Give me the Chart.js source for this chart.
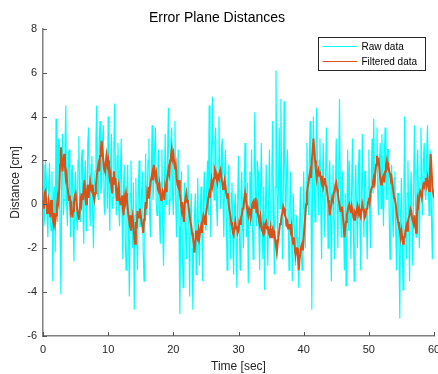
<!DOCTYPE html>
<html>
<head>
<meta charset="utf-8">
<script src="https://cdn.jsdelivr.net/npm/chart.js@4.4.0/dist/chart.umd.min.js"></script>
<style>
  html, body { margin: 0; padding: 0; background: #fff; }
  #wrap { width: 438px; height: 374px; }
</style>
</head>
<body>
<div id="wrap"><canvas id="errorChart" width="438" height="374"></canvas></div>
<script>
// sample spacing, seconds (8 samples per second)
var sampleStep = 0.125;

// raw distances [cm], one row per second
var rawDistance = [
    1.8, -1.0, -0.6, 2.0, 1.2, -0.5, -1.5, 1.0,
    1.9, -0.8, -1.2, 1.5, -3.5, 0.5, 0.8, -2.2,
    3.9, 0.5, -0.8, 3.0, 2.8, -1.5, -4.1, 1.5,
    3.2, -0.5, 0.2, 2.5, 4.5, 0.0, -1.0, 2.2,
    2.5, 0.0, -1.5, 1.5, 1.8, -1.0, -2.6, 0.8,
    1.5, -0.5, -1.2, 2.0, 3.1, 0.2, -0.8, 1.8,
    2.5, -0.2, -1.8, 1.2, 2.0, -1.2, -0.5, 2.8,
    3.5, 0.2, -1.0, 1.8, 2.2, -0.5, -2.0, 1.0,
    1.5, 3.0, 4.5, 0.5, 0.2, 2.8, 3.8, 0.5,
    0.8, 2.8, 3.6, 0.0, -0.5, 2.0, 2.5, -0.2,
    4.0, 0.5, -1.2, 2.0, 3.2, -0.2, 0.3, 2.5,
    4.6, 1.0, -0.5, 2.2, 2.8, -0.2, -1.0, 1.5,
    3.0, -0.5, -2.5, 1.0, 1.8, -1.5, -3.0, 0.5,
    1.8, -1.5, -4.2, 0.5, 2.0, -0.8, -2.0, 1.0,
    -4.8, -0.5, 1.2, -1.5, -3.0, 0.5, 2.0, -1.0,
    -1.0, 0.5, 1.5, -2.0, -3.5, 0.2, 2.3, -0.5,
    0.5, 2.0, 3.0, -0.5, -1.5, 1.5, 3.6, 0.2,
    1.0, 2.5, 3.5, 0.0, -0.5, 1.8, 2.5, -0.8,
    -1.8, 1.0, 2.5, -1.2, -2.8, 0.5, 3.2, 0.0,
    0.8, 2.5, 4.4, -0.5, 0.2, 2.8, 3.5, 0.5,
    -0.5, 2.0, 3.8, 0.0, -1.5, 1.2, 2.5, -1.0,
    -5.0, -0.8, 1.5, -2.0, -3.8, -0.2, 1.0, -1.5,
    -2.5, 0.2, 1.8, -1.0, -4.2, -0.5, 0.5, -2.0,
    -4.8, -1.5, -0.5, 0.5, -3.2, -1.0, 1.2, -1.8,
    -2.8, -0.5, 0.8, -1.2, -3.5, 0.2, 1.5, -0.8,
    -1.2, 0.8, 2.0, -0.5, 4.5, 0.5, -1.5, 2.5,
    4.9, 1.5, 0.2, 2.8, 3.5, 0.0, -1.0, 2.0,
    4.0, 1.0, -0.2, 2.5, 3.0, 0.2, -1.5, 1.5,
    2.5, -0.5, -3.0, 0.8, 1.8, -0.8, -2.5, 0.5,
    1.0, -1.5, -3.2, -0.2, 0.5, -1.8, -3.8, 0.2,
    2.2, -0.8, -3.0, 0.5, 1.5, -1.0, -2.0, 0.8,
    2.8, 0.2, -1.5, 1.0, -3.6, -0.5, 1.5, -1.0,
    2.5, -0.5, -2.5, 1.2, 4.2, 0.5, -1.0, 2.0,
    1.5, -1.2, -3.0, 0.5, 2.8, -0.5, -2.5, 0.8,
    -3.9, -0.5, 1.8, -1.0, -2.8, 0.2, 2.5, -0.8,
    -1.0, 1.5, 3.8, -0.5, -3.2, 0.8, 6.1, 1.0,
    -1.5, 0.8, 3.5, -0.2, 4.8, 1.0, -2.5, 0.5,
    4.7, 1.2, -1.0, 1.5, 2.5, -0.8, -3.0, 0.2,
    1.5, -1.0, -3.5, 0.5, 0.5, -1.5, -2.8, -0.5,
    -1.5, -2.5, -3.8, -1.0, 0.8, -2.0, -3.0, -0.8,
    1.5, -0.5, -2.0, 1.0, 2.8, 0.2, -0.5, 2.0,
    3.8, 0.5, -4.8, 1.5, 4.0, 1.0, -0.8, 2.5,
    4.4, 1.2, -0.5, 2.0, 3.0, 0.0, -2.5, 1.0,
    2.8, 0.2, -1.5, 1.5, 3.5, 0.5, -2.0, 1.2,
    2.0, -0.5, -3.5, 0.5, 1.8, -0.8, -2.5, 0.8,
    3.0, 0.0, -2.0, 1.5, 4.8, 0.5, -1.5, 1.2,
    1.5, -1.0, -3.0, 0.5, -3.7, -0.5, 2.5, -1.2,
    2.0, -0.5, -2.5, 1.0, 3.0, -0.8, -3.5, 0.5,
    1.8, -0.5, -2.0, 1.2, 2.5, -0.8, -3.0, 0.2,
    3.2, 0.2, -1.5, 1.5, 1.5, -0.8, -2.5, 0.8,
    2.5, -0.2, -2.0, 1.0, 3.0, 0.5, 3.9, 0.8,
    1.0, 2.2, 3.5, 0.5, -0.5, 1.8, 2.8, -0.2,
    3.2, 0.8, -1.0, 2.0, 3.5, 1.2, 0.2, 2.5,
    2.5, -0.5, -2.5, 1.0, 1.8, -0.5, -1.5, 1.2,
    1.5, -1.2, -3.0, 0.5, 0.5, -2.0, -5.2, -0.5,
    1.2, -1.5, -3.9, 0.2, 4.0, -0.8, -2.5, 0.5,
    2.0, -0.8, -3.5, 0.5, 1.5, -1.2, -2.8, 0.8,
    3.6, 0.5, -1.5, 1.5, 2.5, 0.0, -2.0, 1.2,
    3.5, 1.0, -0.5, 2.0, 2.8, 0.5, 0.2, 2.2,
    3.6, 0.8, -0.5, 2.5, 1.9, -0.8, -2.5, 0.5,
    0.5
];

// filtered distances [cm], one row per second
var filteredDistance = [
    0.2, -0.2, 0.5, 0.6, 0.1, -0.4, -0.3, 0.1,
    -0.2, -0.6, 0.2, -0.1, -0.7, -0.9, -0.4, -0.8,
    -0.5, -0.1, 0.3, 0.1, 0.8, 1.8, 2.6, 1.9,
    1.5, 2.0, 2.3, 1.7, 1.2, 1.4, 0.8, 0.5,
    0.2, 0.4, -0.3, -0.1, -0.6, -0.3, 0.1, 0.4,
    0.5, 0.1, -0.2, -0.5, -0.7, -0.3, 0.2, 0.0,
    0.5, 0.2, 0.8, 1.1, 0.3, 0.0, 0.6, 0.9,
    0.3, 0.6, 1.0, 0.7, 0.6, 0.9, 0.4, 0.2,
    0.5, 0.9, 1.3, 1.6, 1.8, 1.5, 2.2, 2.5,
    2.9, 2.4, 2.0, 1.6, 1.5, 1.9, 2.2, 1.8,
    2.0, 1.5, 1.2, 1.4, 0.8, 0.5, 1.2, 1.5,
    0.9, 1.2, 0.5, 0.2, 0.7, 0.9, 0.3, 0.0,
    0.0, 0.4, -0.2, -0.5, 0.3, 0.1, 0.5, 0.2,
    -0.2, -0.5, -0.8, -0.5, -1.2, -0.9, -0.6, -1.0,
    -1.5, -1.8, -0.8, -1.1, -0.3, -0.6, -0.6, -0.2,
    -0.5, -0.8, -1.0, -1.3, -0.7, -0.4, 0.1, -0.2,
    0.5, 0.3, 0.8, 0.6, 1.0, 1.2, 1.4, 1.1,
    1.8, 1.5, 1.2, 1.4, 1.0, 0.7, 0.6, 0.9,
    0.5, 0.2, 0.3, 0.6, 0.5, 0.2, 0.8, 0.6,
    1.0, 1.3, 1.6, 1.4, 2.0, 2.2, 2.5, 2.1,
    2.3, 1.9, 1.6, 1.8, 1.2, 0.9, 0.8, 1.1,
    0.5, 0.2, -0.2, 0.1, -0.5, -0.8, 0.0, 0.3,
    0.5, 0.1, 0.2, -0.2, -0.5, -0.8, -1.0, -1.3,
    -1.5, -1.8, -2.2, -1.7, -1.2, -1.5, -1.6, -1.2,
    -1.5, -1.2, -1.0, -1.3, -0.8, -0.5, -0.6, -0.9,
    -0.5, -0.2, 0.0, 0.3, 0.5, 0.3, 0.8, 1.1,
    0.8, 1.0, 1.2, 1.6, 1.5, 1.2, 1.0, 1.3,
    1.2, 1.5, 1.6, 1.2, 1.0, 0.7, 0.9, 1.1,
    0.8, 0.5, 0.3, 0.5, 0.0, -0.3, -0.5, -0.8,
    -1.0, -1.3, -1.4, -1.0, -0.8, -1.1, -1.0, -1.3,
    -1.2, -0.8, -0.9, -0.6, -0.5, -0.2, -0.2, 0.2,
    0.5, 0.2, 0.0, -0.3, -0.5, -0.2, -0.3, -0.6,
    -0.3, 0.0, 0.1, -0.2, 0.0, 0.3, -0.4, -0.1,
    -0.5, -0.7, -0.9, -0.6, -1.0, -1.2, -1.3, -1.0,
    -1.2, -0.9, -0.8, -1.1, -1.0, -1.3, -1.4, -1.1,
    -1.5, -1.2, -1.1, -1.4, -1.3, -1.6, -1.9, -2.2,
    -1.8, -1.5, -1.2, -0.9, -0.8, -0.5, -0.4, -0.1,
    -0.2, -0.5, -0.6, -0.9, -0.8, -1.1, -1.1, -0.9,
    -1.2, -1.0, -1.5, -1.8, -1.5, -2.0, -2.3, -2.0,
    -2.0, -2.4, -3.0, -2.5, -2.2, -1.9, -1.8, -2.1,
    -1.5, -1.0, -0.5, 0.0, 0.5, 0.8, 1.0, 1.3,
    1.5, 1.2, 2.0, 2.4, 3.0, 2.5, 2.0, 1.6,
    1.2, 1.5, 1.6, 1.3, 1.5, 1.2, 1.0, 1.3,
    0.8, 1.0, 1.2, 0.9, 0.8, 0.5, 0.2, 0.0,
    -0.5, -0.2, 0.0, 0.3, 0.2, 0.5, 0.6, 0.9,
    1.0, 0.7, 0.5, 0.2, 0.0, -0.3, -0.3, -0.1,
    -0.5, -0.9, -1.5, -1.1, -0.8, -0.5, -0.3, -0.1,
    0.0, -0.2, -0.4, -0.1, -0.3, -0.6, -0.7, -0.4,
    -0.5, -0.3, -0.1, -0.4, -0.2, -0.5, -0.6, -0.3,
    0.0, -0.2, -0.3, -0.6, -0.5, -0.2, -0.2, 0.1,
    0.3, 0.1, 0.5, 0.7, 0.8, 1.0, 1.2, 1.0,
    1.5, 1.8, 2.2, 1.9, 2.0, 1.6, 1.2, 0.9,
    1.0, 1.2, 1.3, 1.0, 1.5, 1.8, 2.0, 1.7,
    1.8, 1.5, 1.4, 1.1, 1.2, 0.9, 0.6, 0.3,
    0.2, 0.0, -0.3, -0.6, -0.8, -1.0, -1.2, -1.5,
    -1.2, -1.5, -1.8, -1.5, -1.5, -1.2, -1.0, -1.2,
    -0.8, -0.6, -0.5, -0.2, -0.3, -0.6, -0.6, -0.9,
    -0.5, -0.9, -1.3, -0.6, 0.2, 0.0, 0.4, 0.6,
    0.5, 0.3, 0.7, 0.9, 0.8, 1.0, 1.2, 0.9,
    1.2, 0.9, 0.6, 1.5, 2.3, 1.6, 0.8, 0.5,
    0.3
];

var seriesNames = ['Raw data', 'Filtered data'];
var xTicks = [0, 10, 20, 30, 40, 50, 60];
var yTicks = [-6, -4, -2, 0, 2, 4, 6, 8];

function toPoints(values) {
    return values.map(function(v, i) { return { x: i * sampleStep, y: v }; });
}

// MATLAB style: ticks pointing into the plot
var innerTicks = {
    id: 'innerTicks',
    afterDraw: function(chart) {
        var ctx = chart.ctx, a = chart.chartArea;
        var xs = chart.scales.x, ys = chart.scales.y;
        ctx.save();
        ctx.strokeStyle = '#555';
        ctx.lineWidth = 1;
        ctx.beginPath();
        xTicks.forEach(function(t) {
            var px = Math.round(xs.getPixelForValue(t)) + 0.5;
            ctx.moveTo(px, a.bottom);
            ctx.lineTo(px, a.bottom - 4);
        });
        yTicks.forEach(function(t) {
            var py = Math.round(ys.getPixelForValue(t)) + 0.5;
            ctx.moveTo(a.left, py);
            ctx.lineTo(a.left + 4, py);
        });
        ctx.stroke();
        ctx.restore();
    }
};

// legend box inside the axes, top right
var boxLegend = {
    id: 'boxLegend',
    afterDraw: function(chart) {
        var ctx = chart.ctx;
        var x = 318.5, y = 37.5, w = 107, h = 33;
        ctx.save();
        ctx.fillStyle = '#fff';
        ctx.fillRect(x, y, w, h);
        ctx.strokeStyle = '#262626';
        ctx.lineWidth = 1;
        ctx.strokeRect(x, y, w, h);
        ctx.font = '10px "Liberation Sans", Arial, sans-serif';
        ctx.textBaseline = 'middle';
        chart.data.datasets.forEach(function(ds, i) {
            var ly = y + 9 + i * 15;
            ctx.strokeStyle = ds.borderColor;
            ctx.lineWidth = 1.2;
            ctx.beginPath();
            ctx.moveTo(x + 4, ly);
            ctx.lineTo(x + 39, ly);
            ctx.stroke();
            ctx.fillStyle = '#000';
            ctx.fillText(ds.label, x + 43, ly + 0.5);
        });
        ctx.restore();
    }
};

document.addEventListener("DOMContentLoaded", function() {
    var ctx = document.getElementById('errorChart').getContext('2d');
    var myChart = new Chart(ctx, {
        type: 'line',
        data: {
            datasets: [{
                label: seriesNames[0],
                data: toPoints(rawDistance),
                borderColor: '#00ffff',
                borderWidth: 1.2,
                pointRadius: 0,
                tension: 0,
                order: 2
            }, {
                label: seriesNames[1],
                data: toPoints(filteredDistance),
                borderColor: '#d95319',
                borderWidth: 2,
                pointRadius: 0,
                tension: 0,
                order: 1
            }]
        },
        plugins: [innerTicks, boxLegend],
        options: {
            responsive: false,
            animation: false,
            layout: { padding: { left: 0, right: 4, top: 0, bottom: 0 } },
            plugins: {
                legend: { display: false },
                tooltip: { enabled: false },
                title: {
                    display: true,
                    text: 'Error Plane Distances',
                    color: '#000',
                    font: { family: '"Liberation Sans", Arial, sans-serif', size: 14, weight: 'normal' },
                    padding: { top: 10, bottom: 2 }
                }
            },
            scales: {
                x: {
                    type: 'linear',
                    min: 0,
                    max: 60,
                    afterBuildTicks: function(s) { s.ticks = xTicks.map(function(v) { return { value: v }; }); },
                    afterFit: function(s) { s.height = 38; s.paddingLeft = 0; s.paddingRight = 0; },
                    grid: { display: false, drawTicks: false },
                    border: { color: '#808080', width: 1.5 },
                    ticks: {
                        color: '#262626',
                        padding: 7,
                        maxRotation: 0,
                        font: { family: '"Liberation Sans", Arial, sans-serif', size: 11 }
                    },
                    title: {
                        display: true,
                        text: 'Time [sec]',
                        color: '#262626',
                        padding: { top: 1, bottom: 0 },
                        font: { family: '"Liberation Sans", Arial, sans-serif', size: 12 }
                    }
                },
                y: {
                    min: -6,
                    max: 8,
                    afterBuildTicks: function(s) { s.ticks = yTicks.map(function(v) { return { value: v }; }); },
                    afterFit: function(s) { s.width = 43; s.paddingTop = 0; s.paddingBottom = 0; },
                    grid: { display: false, drawTicks: false },
                    border: { color: '#808080', width: 1.5 },
                    ticks: {
                        color: '#262626',
                        padding: 6,
                        font: { family: '"Liberation Sans", Arial, sans-serif', size: 11 }
                    },
                    title: {
                        display: true,
                        text: 'Distance [cm]',
                        color: '#262626',
                        padding: { top: 8, bottom: 2 },
                        font: { family: '"Liberation Sans", Arial, sans-serif', size: 12 }
                    }
                }
            }
        }
    });
});
</script>
</body>
</html>
